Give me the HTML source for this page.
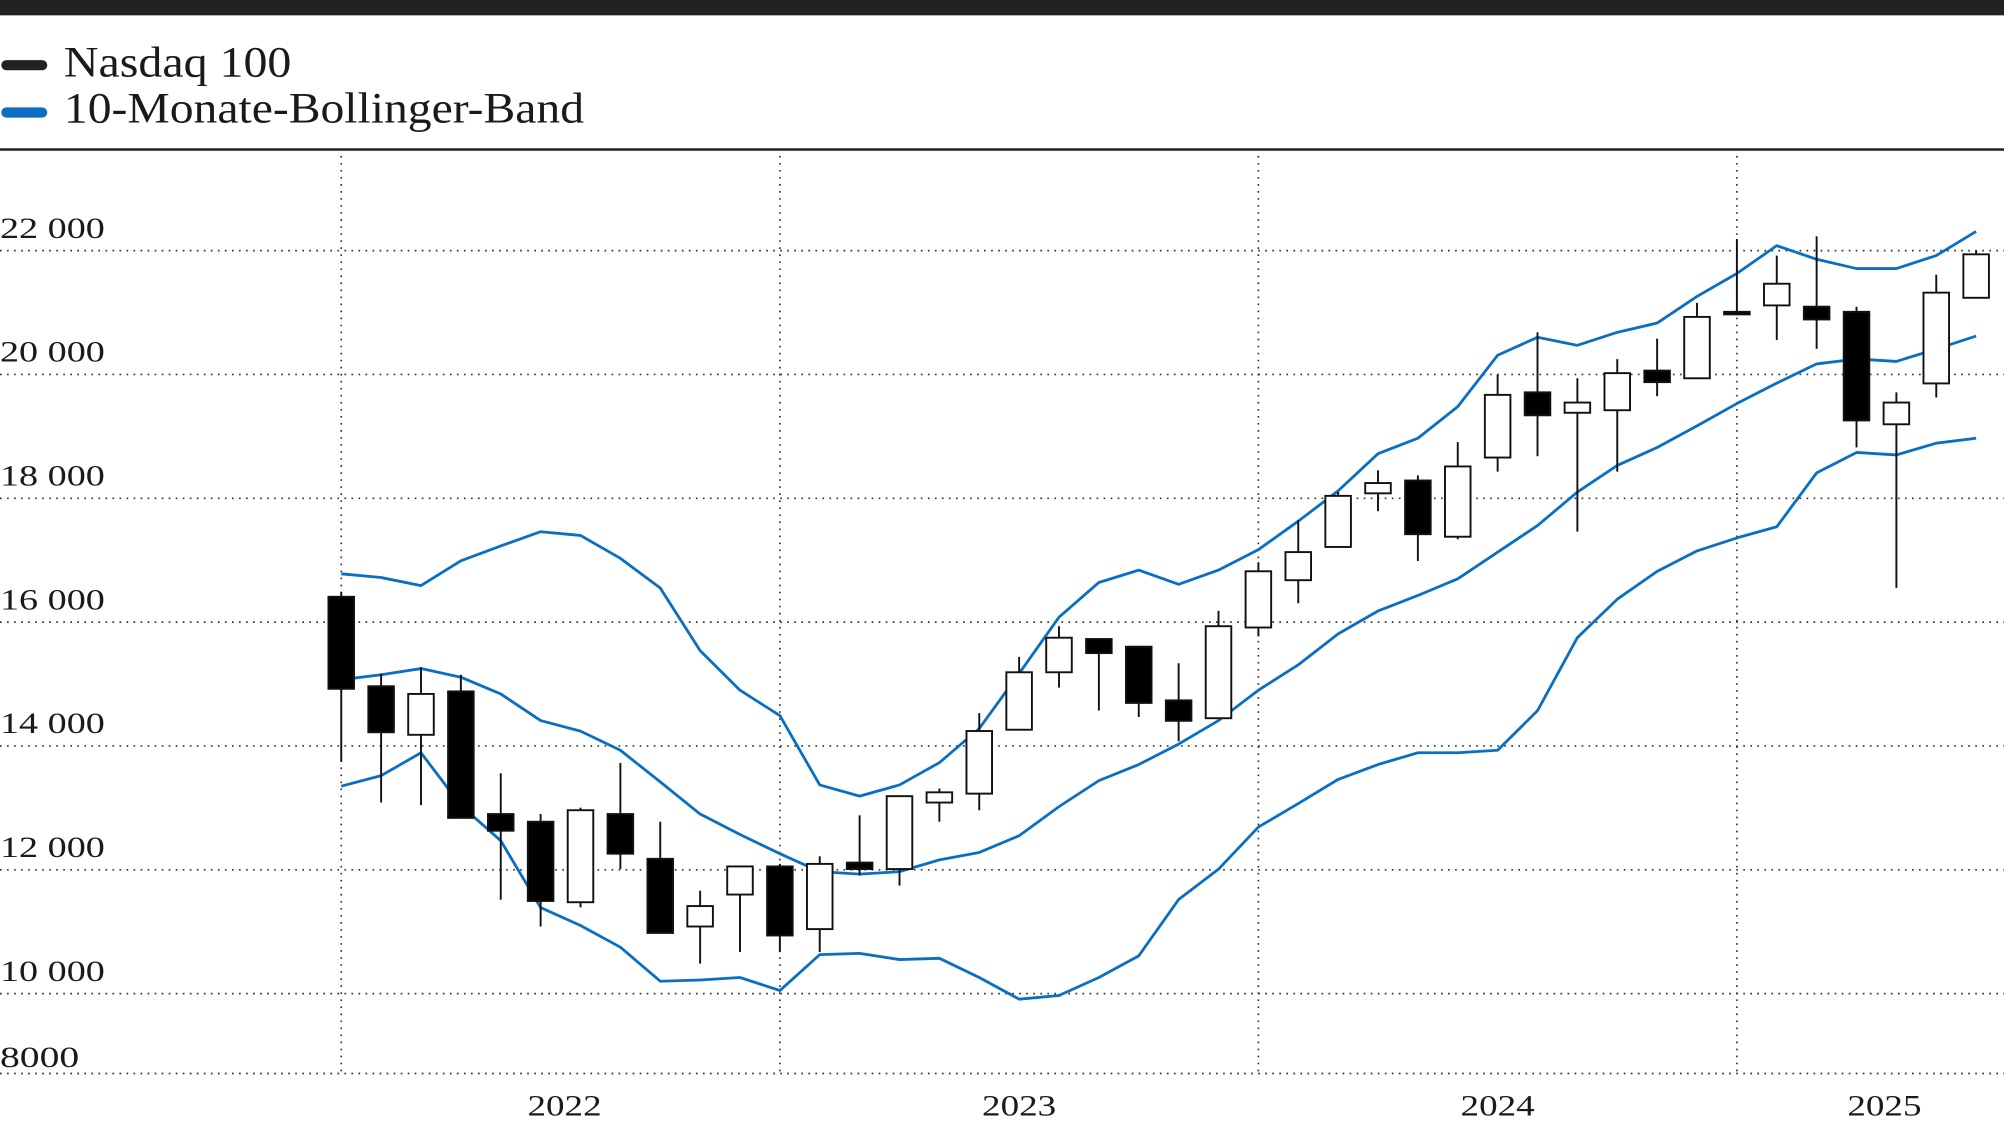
<!DOCTYPE html>
<html><head><meta charset="utf-8">
<style>
html,body{margin:0;padding:0;background:#fff;}
svg{display:block;}
text{font-family:"Liberation Serif",serif;fill:#1a1a1a;}
</style></head>
<body>
<svg id="chart" width="2004" height="1131" viewBox="0 0 1568 885" preserveAspectRatio="none" xmlns="http://www.w3.org/2000/svg">
<rect x="0" y="0" width="1568" height="12" fill="#222"/>
<g>
<line x1="5" y1="51" x2="33" y2="51" stroke="#222" stroke-width="8" stroke-linecap="round"/>
<text x="50" y="60" font-size="34" textLength="178" lengthAdjust="spacingAndGlyphs">Nasdaq 100</text>
<line x1="5" y1="88" x2="33" y2="88" stroke="#0a6fc2" stroke-width="8" stroke-linecap="round"/>
<text x="50" y="96" font-size="34" textLength="407" lengthAdjust="spacingAndGlyphs">10-Monate-Bollinger-Band</text>
</g>
<line x1="0" y1="117" x2="1568" y2="117" stroke="#222" stroke-width="2"/>
<g id="grid"></g>
<g id="bands"></g>
<g id="candles"></g>
<g id="labels"></g>
</svg>
<script>
const opens  = [16409,14964,14180,14881,12900,12776,11476,12900,12177,11084,11600,12054,11042,12116,12012,13086,13230,14262,15190,15727,15603,14736,14448,15913,16677,17214,18080,18287,17379,18658,19711,19381,19422,20062,19938,21011,21115,21094,21011,19195,19855,21238];
const closes = [14923,14221,14840,12838,12631,11496,12962,12260,10980,11414,12054,10939,12095,12012,13189,13251,14241,15190,15748,15500,14695,14406,15934,16821,17131,18039,18246,17420,18514,19670,19340,19546,20021,19876,20929,20970,21465,20888,19257,19546,21321,21940];
const highs  = [16491,15170,15273,15150,13560,12900,13003,13725,12776,11662,12054,12095,12219,12879,13189,13313,14530,15438,15934,15727,15603,15335,16182,16966,17647,18101,18452,18370,18906,20000,20681,19938,20248,20578,21156,22188,21920,22229,21094,19711,21610,22002];
const lows   = [13746,13086,13045,12838,11517,11084,11393,12012,10980,10485,10671,10671,10671,11909,11744,12776,12962,14262,14943,14572,14468,14076,14448,15769,16305,17214,17792,16987,17338,18431,18679,17461,18431,19649,19938,20970,20557,20413,18823,16553,19628,21238];
const upperBand  = [16780,16720,16590,16990,17230,17460,17400,17030,16550,15540,14900,14490,13370,13190,13370,13730,14280,15170,16080,16640,16840,16610,16840,17170,17630,18120,18720,18970,19480,20310,20600,20470,20680,20830,21260,21630,22080,21860,21710,21710,21920,22310];
const middleBand = [15070,15150,15250,15110,14840,14410,14240,13930,13420,12900,12570,12260,11970,11930,11970,12160,12280,12550,13020,13440,13700,14030,14410,14900,15310,15810,16180,16430,16700,17130,17560,18100,18530,18820,19170,19530,19860,20170,20250,20210,20410,20620];
const lowerBand  = [13350,13520,13890,13040,12470,11390,11100,10750,10200,10220,10260,10050,10630,10650,10550,10570,10260,9910,9970,10260,10610,11520,12010,12690,13070,13460,13700,13890,13890,13930,14570,15750,16370,16820,17150,17360,17540,18410,18740,18700,18890,18970];
const yTickValues = [10000,12000,14000,16000,18000,20000,22000];
const yTickLabels = ["10 000","12 000","14 000","16 000","18 000","20 000","22 000"];
const yBottomLabel = "8000";
const yearLabels = ["2022","2023","2024","2025"];
const yearIndex = [5.6,17,29,38.7];
const vGridIndex = [0,11,23,35];

const NS="http://www.w3.org/2000/svg";
function xs(i){return 267+i*31.2;}
function ys(v){return 293-(v-20000)*0.04845;}
const BOTTOM=840;
function mk(tag,attrs,parent){const e=document.createElementNS(NS,tag);for(const k in attrs)e.setAttribute(k,attrs[k]);parent.appendChild(e);return e;}
const grid=document.getElementById('grid'),bands=document.getElementById('bands'),cg=document.getElementById('candles'),lg=document.getElementById('labels');
const dot={stroke:"#333","stroke-width":1.3,"stroke-dasharray":"1.3 4.2"};
yTickValues.forEach((v,k)=>{
  const l=mk('line',Object.assign({x1:0,x2:1568,y1:ys(v),y2:ys(v)},dot),grid);
  
  
  const t=mk('text',{x:0,y:ys(v)-10,"font-size":23,textLength:82,lengthAdjust:"spacingAndGlyphs"},lg);t.textContent=yTickLabels[k];
  
  
});
const bl=mk('line',Object.assign({x1:0,x2:1568,y1:BOTTOM,y2:BOTTOM},dot),grid);


const bt=mk('text',{x:0,y:BOTTOM-5,"font-size":23,textLength:62,lengthAdjust:"spacingAndGlyphs"},lg);bt.textContent=yBottomLabel;


vGridIndex.forEach(i=>{
  const l=mk('line',Object.assign({x1:xs(i),x2:xs(i),y1:122,y2:BOTTOM},dot),grid);
  
  
});
yearLabels.forEach((s,k)=>{
  const t=mk('text',{x:xs(yearIndex[k])-29,y:873,"font-size":23,textLength:58,lengthAdjust:"spacingAndGlyphs"},lg);t.textContent=s;
  
  
});
[[upperBand,'upper-band'],[middleBand,'middle-band'],[lowerBand,'lower-band']].forEach(([arr,name])=>{
  const p=mk('polyline',{points:arr.map((v,i)=>xs(i)+","+ys(v)).join(" "),fill:"none",stroke:"#0a6fc2","stroke-width":2.2,"stroke-linejoin":"round"},bands);
  
  
});
opens.forEach((o,i)=>{
  const c=closes[i],x=xs(i),w=20;
  const g=mk('g',{},cg);
  
  
  mk('line',{x1:x,x2:x,y1:ys(highs[i]),y2:ys(lows[i]),stroke:"#111","stroke-width":1.5},g);
  const top=ys(Math.max(o,c)),bot=ys(Math.min(o,c));
  mk('rect',{x:x-w/2,y:top,width:w,height:Math.max(bot-top,1.5),fill:c<o?"#000":"#fff",stroke:"#111","stroke-width":1.5},g);
});
</script>
</body></html>
